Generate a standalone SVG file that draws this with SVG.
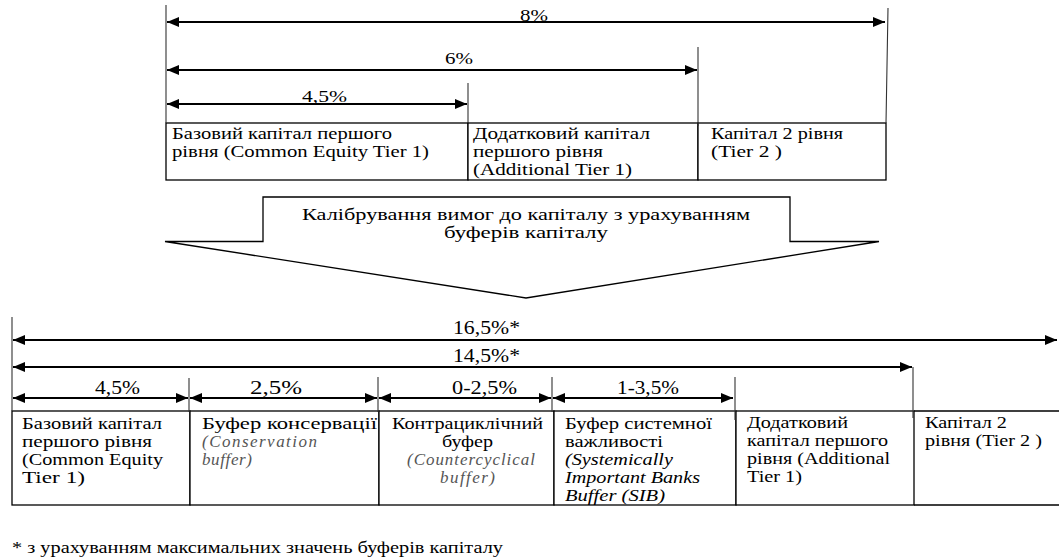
<svg xmlns="http://www.w3.org/2000/svg" width="1059" height="559" viewBox="0 0 1059 559">
<style>
  .box { fill: #fff; stroke: #000; stroke-width: 1.3; }
  .edge { fill: none; stroke: #000; stroke-width: 1.3; }
  .guide { fill: none; stroke: #333; stroke-width: 1.1; }
  .dim { fill: none; stroke: #000; stroke-width: 1.8; marker-start: url(#ah); marker-end: url(#ah); }
</style>
<defs>
  <marker id="ah" markerUnits="userSpaceOnUse" markerWidth="13" markerHeight="11" refX="12" refY="5" orient="auto-start-reverse">
    <path d="M0,0 L12,5 L0,10 z" fill="#000"/>
  </marker>
</defs>
<rect width="1059" height="559" fill="#fff"/>
<g id="top-cet1">
  <rect class="box" x="166" y="123" width="302" height="57"/>
  <text font-size="16" font-family="Liberation Serif" x="172" y="139" textLength="220" lengthAdjust="spacingAndGlyphs">Базовий капітал першого</text>
  <text font-size="16" font-family="Liberation Serif" x="172" y="157" textLength="257" lengthAdjust="spacingAndGlyphs">рівня (Common Equity Tier 1)</text>
</g>
<g id="top-at1">
  <rect class="box" x="468" y="123" width="230" height="57"/>
  <text font-size="16" font-family="Liberation Serif" x="473" y="139" textLength="177" lengthAdjust="spacingAndGlyphs">Додатковий капітал</text>
  <text font-size="16" font-family="Liberation Serif" x="473" y="157" textLength="130" lengthAdjust="spacingAndGlyphs">першого рівня</text>
  <text font-size="16" font-family="Liberation Serif" x="473" y="175" textLength="159" lengthAdjust="spacingAndGlyphs">(Additional Tier 1)</text>
</g>
<g id="top-t2">
  <rect class="box" x="698" y="123" width="188" height="57"/>
  <text font-size="16" font-family="Liberation Serif" x="711" y="139" textLength="132" lengthAdjust="spacingAndGlyphs">Капітал 2 рівня</text>
  <text font-size="16" font-family="Liberation Serif" x="711" y="157" textLength="71" lengthAdjust="spacingAndGlyphs">(Tier 2 )</text>
</g>
<g id="calibration-arrow">
  <path class="edge" d="M263,197 H790 V241.5 H879 L526,298 L165,241.5 H263 Z" fill="#fff"/>
  <text font-size="17" font-family="Liberation Serif" x="302" y="220" textLength="448" lengthAdjust="spacingAndGlyphs">Калібрування вимог до капіталу з урахуванням</text>
  <text font-size="17" font-family="Liberation Serif" x="444" y="238" textLength="164" lengthAdjust="spacingAndGlyphs">буферів капіталу</text>
</g>
<g id="bot-cet1">
  <rect class="box" x="12" y="411" width="178" height="94"/>
  <text font-size="17" font-family="Liberation Serif" x="22" y="429" textLength="140" lengthAdjust="spacingAndGlyphs">Базовий капітал</text>
  <text font-size="17" font-family="Liberation Serif" x="22" y="447" textLength="130" lengthAdjust="spacingAndGlyphs">першого рівня</text>
  <text font-size="17" font-family="Liberation Serif" x="22" y="465" textLength="141" lengthAdjust="spacingAndGlyphs">(Common Equity</text>
  <text font-size="17" font-family="Liberation Serif" x="22" y="483" textLength="63" lengthAdjust="spacingAndGlyphs">Tier 1)</text>
</g>
<g id="bot-conservation">
  <rect class="box" x="190" y="411" width="189" height="94"/>
  <text font-size="17" font-family="Liberation Serif" x="202" y="429" textLength="175" lengthAdjust="spacingAndGlyphs">Буфер консервації</text>
  <text font-size="17" font-family="Liberation Serif" font-style="italic" fill="#555" x="202" y="447" textLength="115" lengthAdjust="spacing">(Conservation</text>
  <text font-size="17" font-family="Liberation Serif" font-style="italic" fill="#555" x="202" y="465" textLength="50" lengthAdjust="spacing">buffer)</text>
</g>
<g id="bot-countercyclical">
  <rect class="box" x="379" y="411" width="175" height="94"/>
  <text font-size="17" font-family="Liberation Serif" x="392" y="429" textLength="151" lengthAdjust="spacingAndGlyphs">Контрациклічний</text>
  <text font-size="17" font-family="Liberation Serif" x="442" y="447" textLength="51" lengthAdjust="spacingAndGlyphs">буфер</text>
  <text font-size="17" font-family="Liberation Serif" font-style="italic" fill="#555" x="407" y="465" textLength="128" lengthAdjust="spacing">(Countercyclical</text>
  <text font-size="17" font-family="Liberation Serif" font-style="italic" fill="#555" x="440" y="483" textLength="55" lengthAdjust="spacing">buffer)</text>
</g>
<g id="bot-sib">
  <rect class="box" x="554" y="411" width="182" height="94"/>
  <text font-size="17" font-family="Liberation Serif" x="565" y="429" textLength="147" lengthAdjust="spacingAndGlyphs">Буфер системної</text>
  <text font-size="17" font-family="Liberation Serif" x="565" y="447" textLength="98" lengthAdjust="spacingAndGlyphs">важливості</text>
  <text font-size="17" font-family="Liberation Serif" font-style="italic" x="565" y="465" textLength="108" lengthAdjust="spacingAndGlyphs">(Systemically</text>
  <text font-size="17" font-family="Liberation Serif" font-style="italic" x="565" y="483" textLength="135" lengthAdjust="spacingAndGlyphs">Important Banks</text>
  <text font-size="17" font-family="Liberation Serif" font-style="italic" x="565" y="501" textLength="100" lengthAdjust="spacingAndGlyphs">Buffer (SIB)</text>
</g>
<g id="bot-at1">
  <rect class="box" x="736" y="411" width="178" height="94"/>
  <text font-size="17" font-family="Liberation Serif" x="747" y="428" textLength="101" lengthAdjust="spacingAndGlyphs">Додатковий</text>
  <text font-size="17" font-family="Liberation Serif" x="747" y="446" textLength="141" lengthAdjust="spacingAndGlyphs">капітал першого</text>
  <text font-size="17" font-family="Liberation Serif" x="747" y="464" textLength="143" lengthAdjust="spacingAndGlyphs">рівня (Additional</text>
  <text font-size="17" font-family="Liberation Serif" x="747" y="482" textLength="55" lengthAdjust="spacingAndGlyphs">Tier 1)</text>
</g>
<g id="bot-t2">
  <path class="edge" d="M914,411 H1059 M914,505 H1059"/>
  <text font-size="17" font-family="Liberation Serif" x="925" y="428" textLength="82" lengthAdjust="spacingAndGlyphs">Капітал 2</text>
  <text font-size="17" font-family="Liberation Serif" x="925" y="446" textLength="117" lengthAdjust="spacingAndGlyphs">рівня (Tier 2 )</text>
</g>
<g id="connectors">
  <path class="guide" d="M166,5 V123 M468,83 V123 M698,47 V126 M888,8 L886,123"/>
  <line class="dim" x1="167" y1="22" x2="885" y2="22"/>
  <line class="dim" x1="167" y1="70" x2="697" y2="70"/>
  <line class="dim" x1="167" y1="104" x2="467" y2="104"/>
  <path class="guide" d="M12,317 V411 M913,367 V418 M189,378 V412 M378,377 V412 M552,377 V412 M735,377 V420"/>
  <line class="dim" x1="13" y1="340" x2="1057" y2="340"/>
  <line class="dim" x1="13" y1="367" x2="912" y2="367"/>
  <line class="dim" x1="13" y1="398" x2="188" y2="398"/>
  <line class="dim" x1="190" y1="398" x2="377" y2="398"/>
  <line class="dim" x1="379" y1="398" x2="551" y2="398"/>
  <line class="dim" x1="553" y1="398" x2="733" y2="398"/>
</g>
<g id="labels">
  <text font-size="17" font-family="Liberation Serif" x="520" y="21" textLength="28" lengthAdjust="spacingAndGlyphs">8%</text>
  <text font-size="17" font-family="Liberation Serif" x="445" y="64" textLength="28" lengthAdjust="spacingAndGlyphs">6%</text>
  <text font-size="17" font-family="Liberation Serif" x="302" y="102" textLength="45" lengthAdjust="spacingAndGlyphs">4,5%</text>
  <text font-size="18" font-family="Liberation Serif" x="453" y="334" textLength="67" lengthAdjust="spacingAndGlyphs">16,5%*</text>
  <text font-size="18" font-family="Liberation Serif" x="453" y="362" textLength="67" lengthAdjust="spacingAndGlyphs">14,5%*</text>
  <text font-size="18" font-family="Liberation Serif" x="95" y="394" textLength="45" lengthAdjust="spacingAndGlyphs">4,5%</text>
  <text font-size="18" font-family="Liberation Serif" x="250" y="394" textLength="52" lengthAdjust="spacingAndGlyphs">2,5%</text>
  <text font-size="18" font-family="Liberation Serif" x="452" y="394" textLength="65" lengthAdjust="spacingAndGlyphs">0-2,5%</text>
  <text font-size="18" font-family="Liberation Serif" x="617" y="394" textLength="62" lengthAdjust="spacingAndGlyphs">1-3,5%</text>
</g>
<g id="footnote">
  <text font-size="17" font-family="Liberation Serif" x="12" y="553" textLength="491" lengthAdjust="spacingAndGlyphs">* з урахуванням максимальних значень буферів капіталу</text>
</g>
</svg>
